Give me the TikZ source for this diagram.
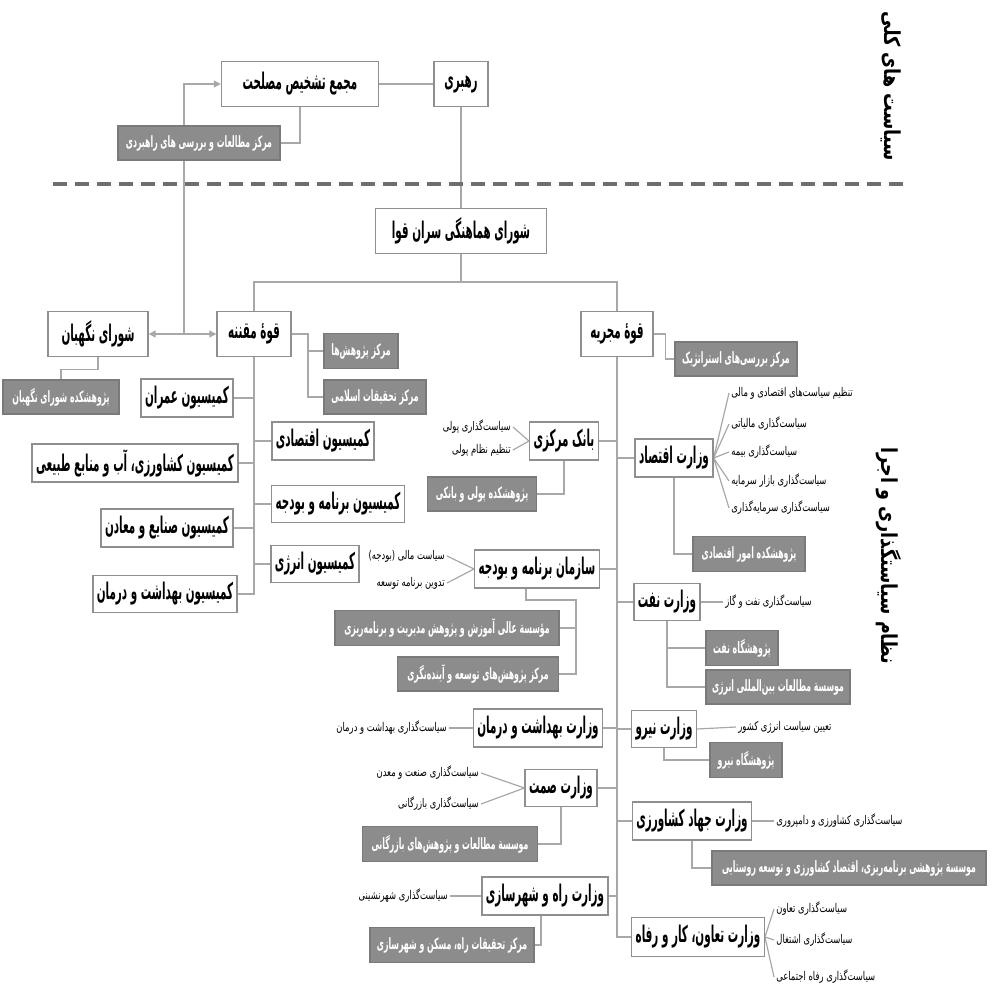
\documentclass[tikz,border=0pt]{standalone}
\usepackage{fontspec}
\usetikzlibrary{arrows.meta,backgrounds}
\newfontfamily\fafont[Script=Arabic,FakeStretch=0.45]{DejaVu Sans}
\newfontfamily\fares[Script=Arabic,FakeStretch=0.5]{DejaVu Sans}
\newfontfamily\fanote[Script=Arabic,FakeStretch=0.7]{DejaVu Sans}
\newfontfamily\fatitle[Script=Arabic,FakeStretch=0.8]{DejaVu Sans}
\TeXXeTstate=1
\newcommand{\fa}[1]{\beginR#1\endR}
\definecolor{boxline}{HTML}{8F8F8F}
\definecolor{resfill}{HTML}{8C8C8C}
\definecolor{resline}{HTML}{7A7A7A}
\definecolor{linkline}{HTML}{A8A8A8}
\definecolor{sepline}{HTML}{6E6E6E}
\tikzset{
  mainbox/.style={draw=boxline, line width=0.7pt, fill=white, inner sep=2pt,
    font=\fafont\bfseries\fontsize{11.5}{12}\selectfont},
  resbox/.style={draw=resline, line width=0.6pt, fill=resfill, text=white, inner sep=2pt,
    font=\fares\bfseries\fontsize{7.8}{8.5}\selectfont},
  note/.style={inner sep=1pt, font=\fanote\fontsize{6}{7}\selectfont},
  sidetitle/.style={font=\fatitle\bfseries\fontsize{11}{13}\selectfont, rotate=-90},
  link/.style={draw=linkline, color=linkline, line width=0.6pt},
  tip/.style={-{Triangle[length=3.5pt,width=3.5pt]}},
  bw/.style={minimum width=#1*0.5pt},
  bh/.style={minimum height=#1*0.5pt},
}
\begin{document}
\begin{tikzpicture}[x=0.5pt,y=-0.5pt]
            \useasboundingbox (0,0) rectangle (1003,986);
            % overall policy
            \node[mainbox, bw=54, bh=45] (rahbari) at (461,84) {\fa{رهبری}};
            \node[mainbox, bw=157, bh=45] (majma) at (300,84) {\fa{مجمع تشخیص مصلحت}};
            \node[resbox, bw=162, bh=34] (rahbordi) at (199,143) {\fa{مرکز مطالعات و بررسی های راهبردی}};
            \node[sidetitle] (kolli) at (891,86) {\fa{سیاست های کلی}};
            \draw[sepline, line width=2pt, dash pattern=on 7pt off 4pt] (53,184) -- (903,184);
            \node[sidetitle] (ejra) at (889,556) {\fa{نظام سیاستگذاری و اجرا}};
            \node[mainbox, bw=171, bh=45] (sran) at (461,231) {\fa{شورای هماهنگی سران قوا}};
            % legislature
            \node[mainbox, bw=100, bh=45] (negahban) at (98,334) {\fa{شورای نگهبان}};
            \node[resbox, bw=116, bh=34] (negres) at (61,397) {\fa{پژوهشکده شورای نگهبان}};
            \node[mainbox, bw=74, bh=45] (moghanane) at (254,334) {\fa{قوهٔ مقننه}};
            \node[resbox, bw=74, bh=35] (majlisres) at (361,351) {\fa{مرکز پژوهش‌ها}};
            \node[resbox, bw=102, bh=34] (eslami) at (375,397) {\fa{مرکز تحقیقات اسلامی}};
            \node[mainbox, bw=88, bh=38] (omran) at (187,398) {\fa{کمیسیون عمران}};
            \node[mainbox, bw=100, bh=38] (eghtesadi) at (323,441) {\fa{کمیسیون اقتصادی}};
            \node[mainbox, bw=191, bh=38] (keshavarzi) at (135,463) {\fa{کمیسیون کشاورزی، آب و منابع طبیعی}};
            \node[mainbox, bw=132, bh=37] (budjec) at (338,504) {\fa{کمیسیون برنامه و بودجه}};
            \node[mainbox, bw=130, bh=38] (sanaye) at (167,528) {\fa{کمیسیون صنایع و معادن}};
            \node[mainbox, bw=86, bh=37] (energyc) at (315,564) {\fa{کمیسیون انرژی}};
            \node[mainbox, bw=136, bh=37] (behdashtc) at (165,594) {\fa{کمیسیون بهداشت و درمان}};
            % executive
            \node[mainbox, bw=72, bh=45] (mojrie) at (617,334) {\fa{قوهٔ مجریه}};
            \node[resbox, bw=122, bh=34] (strategic) at (736,359) {\fa{مرکز بررسی‌های استراتژیک}};
            \node[mainbox, bw=67, bh=38] (bank) at (564,441) {\fa{بانک مرکزی}};
            \node[note, anchor=east] (bank1) at (513,427) {\fa{سیاست‌گذاری پولی}};
            \node[note, anchor=east] (bank2) at (513,450) {\fa{تنظیم نظام پولی}};
            \node[resbox, bw=109, bh=34] (bankres) at (482,494) {\fa{پژوهشکده پولی و بانکی}};
            \node[mainbox, bw=76, bh=38] (eghtesad) at (674,458) {\fa{وزارت اقتصاد}};
            \node[note, anchor=west] (eg1) at (729,393) {\fa{تنظیم سیاست‌های اقتصادی و مالی}};
            \node[note, anchor=west] (eg2) at (729,424) {\fa{سیاست‌گذاری مالیاتی}};
            \node[note, anchor=west] (eg3) at (729,452) {\fa{سیاست‌گذاری بیمه}};
            \node[note, anchor=west] (eg4) at (729,481) {\fa{سیاست‌گذاری بازار سرمایه}};
            \node[note, anchor=west] (eg5) at (729,508) {\fa{سیاست‌گذاری سرمایه‌گذاری}};
            \node[resbox, bw=112, bh=35] (amoor) at (749,554) {\fa{پژوهشکده امور اقتصادی}};
            \node[mainbox, bw=122, bh=38] (sazman) at (537,569) {\fa{سازمان برنامه و بودجه}};
            \node[note, anchor=east] (sz1) at (447,556) {\fa{سیاست مالی (بودجه)}};
            \node[note, anchor=east] (sz2) at (447,583) {\fa{تدوین برنامه توسعه}};
            \node[resbox, bw=224, bh=35] (aali) at (447,628) {\fa{مؤسسة عالی آموزش و پژوهش مدیریت و برنامه‌ریزی}};
            \node[resbox, bw=161, bh=34] (tosee) at (478,674) {\fa{مرکز پژوهش‌های توسعه و آینده‌نگری}};
            \node[mainbox, bw=62, bh=37] (naft) at (667,602) {\fa{وزارت نفت}};
            \node[note, anchor=west] (naft1) at (723,602) {\fa{سیاست‌گذاری نفت و گاز}};
            \node[resbox, bw=72, bh=35] (pnaft) at (742,648) {\fa{پژوهشگاه نفت}};
            \node[resbox, bw=144, bh=34] (energyres) at (778,687) {\fa{موسسة مطالعات بین‌المللی انرژی}};
            \node[mainbox, bw=119, bh=38] (behdasht) at (538,728) {\fa{وزارت بهداشت و درمان}};
            \node[note, anchor=east] (bh1) at (449,728) {\fa{سیاست‌گذاری بهداشت و درمان}};
            \node[mainbox, bw=55, bh=37] (niroo) at (664,729) {\fa{وزارت نیرو}};
            \node[note, anchor=west] (nr1) at (736,727) {\fa{تعیین سیاست انرژی کشور}};
            \node[resbox, bw=72, bh=35] (pniroo) at (746,760) {\fa{پژوهشگاه نیرو}};
            \node[mainbox, bw=70, bh=37] (samat) at (561,788) {\fa{وزارت صمت}};
            \node[note, anchor=east] (sm1) at (481,773) {\fa{سیاست‌گذاری صنعت و معدن}};
            \node[note, anchor=east] (sm2) at (481,804) {\fa{سیاست‌گذاری بازرگانی}};
            \node[resbox, bw=175, bh=35] (bazargani) at (450,844) {\fa{موسسة مطالعات و پژوهش‌های بازرگانی}};
            \node[mainbox, bw=110, bh=38] (jahad) at (692,821) {\fa{وزارت جهاد کشاورزی}};
            \node[note, anchor=west] (jh1) at (774,821) {\fa{سیاست‌گذاری کشاورزی و دامپروری}};
            \node[resbox, bw=274, bh=34] (jahadres) at (849,868) {\fa{موسسة پژوهشی برنامه‌ریزی، اقتصاد کشاورزی و توسعه روستایی}};
            \node[mainbox, bw=123, bh=38] (rah) at (545,896) {\fa{وزارت راه و شهرسازی}};
            \node[note, anchor=east] (rh1) at (450,896) {\fa{سیاست‌گذاری شهرنشینی}};
            \node[resbox, bw=164, bh=35] (rahres) at (452,945) {\fa{مرکز تحقیقات راه، مسکن و شهرسازی}};
            \node[mainbox, bw=123, bh=39] (taavon) at (698,937) {\fa{وزارت تعاون، کار و رفاه}};
            \node[note, anchor=west] (tv1) at (774,909) {\fa{سیاست‌گذاری تعاون}};
            \node[note, anchor=west] (tv2) at (774,940) {\fa{سیاست‌گذاری اشتغال}};
            \node[note, anchor=west] (tv3) at (774,977) {\fa{سیاست‌گذاری رفاه اجتماعی}};
            \coordinate (split) at (461,282);
            \coordinate (shura) at (184,334);
            \coordinate (mq) at (308,334);
            \coordinate (sz) at (576,600);
            \begin{scope}[on background layer]
            \begin{scope}[link]
                \draw (majma) -- (rahbari);
                \draw (rahbordi.east) -| (majma.south);
                \draw[tip] (shura) |- (majma.west);
                \draw[tip] (shura) -- (negahban.east);
                \draw[tip] (shura) -- (moghanane.west);
                \draw (rahbari.south) -- (sran.north);
                \draw (sran.south) -- (split);
                \draw (moghanane.north) |- (split) -| (mojrie.north);
                \draw (negahban.south) -- ++(0,12) -| (negres.north);
                \draw (moghanane.east) -- (mq) |- (eslami.west);
                \draw (mq) |- (majlisres.west);
                \draw (moghanane.south) |- (behdashtc.east);
                \foreach \c in {omran,keshavarzi,sanaye}
                    \draw (\c.east) -- (\c.east -| moghanane.south);
                \foreach \c in {eghtesadi,budjec,energyc}
                    \draw (\c.west) -- (\c.west -| moghanane.south);
                \draw (mojrie.east) -- ++(12,0) |- (strategic.west);
                \draw (mojrie.south) |- (taavon.west);
                \foreach \c in {eghtesad,naft,niroo,jahad}
                    \draw (\c.west) -- (\c.west -| mojrie.south);
                \foreach \c in {bank,sazman,behdasht,samat,rah}
                    \draw (\c.east) -- (\c.east -| mojrie.south);
                \draw (bank.south) |- (bankres.east);
                \draw (bank.west) -- (bank1.east);
                \draw (bank.west) -- (bank2.east);
                \foreach \n in {eg1,eg2,eg3,eg4,eg5}
                    \draw (eghtesad.east) -- (\n.west);
                \draw (eghtesad.south) |- (amoor.west);
                \draw (sazman.west) -- (sz1.east);
                \draw (sazman.west) -- (sz2.east);
                \draw ([xshift=-5.5pt]sazman.south) |- (sz) |- (tosee.east);
                \draw (aali.east -| sz) -- (aali.east);
                \draw (naft.east) -- (naft1.west);
                \draw (naft.south) |- (energyres.west);
                \draw (naft.south |- pnaft.west) -- (pnaft.west);
                \draw (behdasht.west) -- (bh1.east);
                \draw (niroo.east) -- (nr1.west);
                \draw (niroo.south) |- (pniroo.west);
                \draw (samat.west) -- (sm1.east);
                \draw (samat.west) -- (sm2.east);
                \draw (samat.south) |- (bazargani.east);
                \draw (jahad.east) -- (jh1.west);
                \draw (jahad.south) |- (jahadres.west);
                \draw (rah.west) -- (rh1.east);
                \draw ([xshift=-2pt]rah.south) |- (rahres.east);
                \foreach \n in {tv1,tv2,tv3}
                    \draw (taavon.east) -- (\n.west);
            \end{scope}
            \end{scope}
        \end{tikzpicture}
\end{document}
